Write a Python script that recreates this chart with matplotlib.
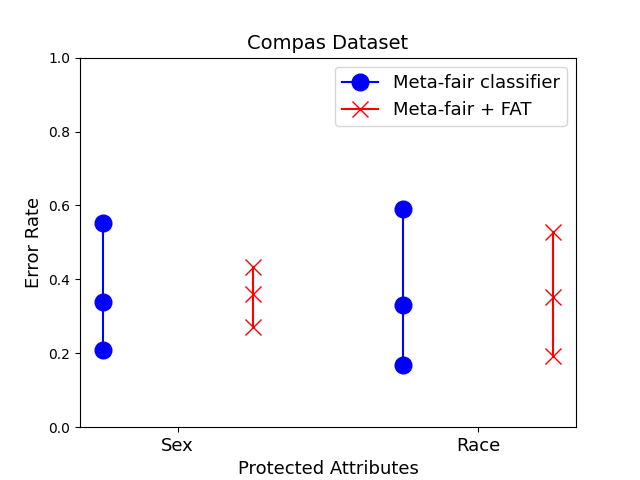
import matplotlib
matplotlib.use('Agg')
import matplotlib.pyplot as plt

attributes = ['Sex', 'Race']
tick_pos = [1, 2]

# error rates (min, mid, max) per attribute
meta_fair = [[0.553, 0.339, 0.209], [0.591, 0.331, 0.168]]
meta_fat = [[0.434, 0.360, 0.271], [0.528, 0.352, 0.192]]

fig, ax = plt.subplots(figsize=(6.4, 4.8), dpi=100)

for i, x in enumerate(tick_pos):
    lab1 = 'Meta-fair classifier' if i == 0 else None
    lab2 = 'Meta-fair + FAT' if i == 0 else None
    ax.plot([x - 0.25] * 3, meta_fair[i], 'b-o', markersize=12, label=lab1)
    ax.plot([x + 0.25] * 3, meta_fat[i], 'r-x', markersize=12, label=lab2)

ax.set_ylim(0, 1)
ax.set_xticks(tick_pos)
ax.set_xticklabels(attributes, fontsize=13)
ax.set_xlabel('Protected Attributes', fontsize=13)
ax.set_ylabel('Error Rate', fontsize=13)
ax.set_title('Compas Dataset', fontsize=14)
ax.legend(fontsize=13)

plt.savefig('out.png')
